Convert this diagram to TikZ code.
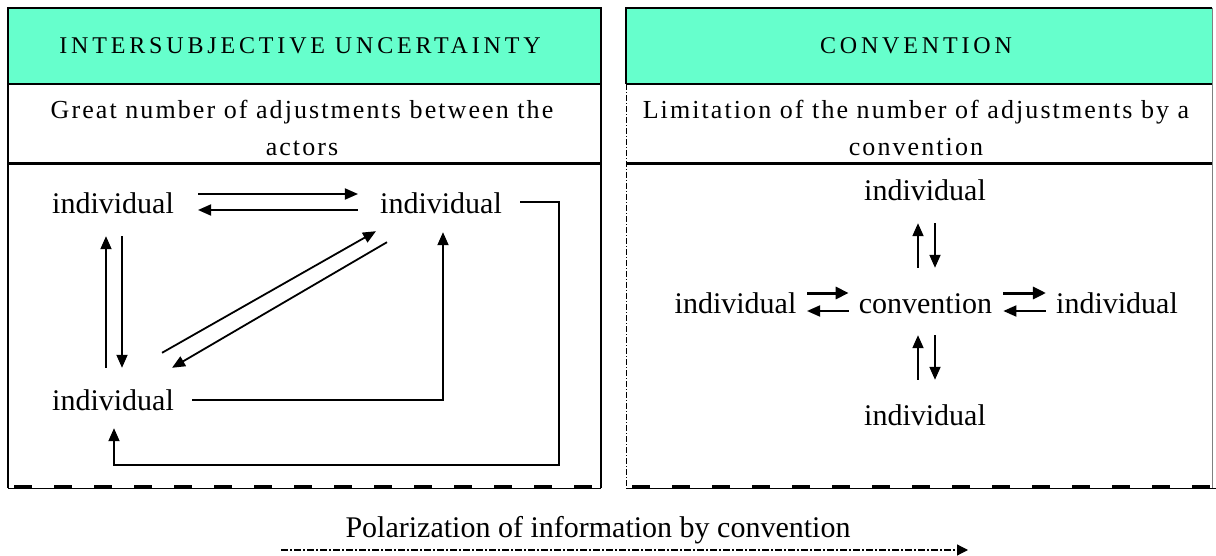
\documentclass[tikz,border=0pt]{standalone}
\usepackage{fontspec}
\setmainfont{Liberation Serif}
\newfontfamily\hdrfam[LetterSpace=16]{Liberation Serif}
\newfontfamily\subfam[LetterSpace=8]{Liberation Serif}
\usetikzlibrary{arrows.meta,calc}
\definecolor{hdrgreen}{RGB}{102,255,204}
\tikzset{
  lbl/.style={font=\fontsize{30}{36}\selectfont, inner sep=0pt, text height=20pt, text depth=0pt, anchor=base},
  hdr/.style={font=\hdrfam\fontsize{24}{28}\selectfont, inner sep=0pt, anchor=base},
  subt/.style={font=\subfam\fontsize{26}{37}\selectfont, inner sep=0pt, align=center},
  conn/.style={line width=1.8pt, -{Triangle[length=13pt,width=11pt]}},
  boldconn/.style={line width=3pt, -{Triangle[length=13pt,width=12pt]}},
  frame/.style={line width=1.8pt},
  botdash/.style={line width=3pt, dash pattern=on 18pt off 22pt},
}
\begin{document}
\begin{tikzpicture}[x=1pt,y=-1pt]
\useasboundingbox (0,0) rectangle (1216,556);
% ---------- panel backgrounds
\fill[hdrgreen] (8,8) rectangle (601,84);
\fill[hdrgreen] (626,8) rectangle (1212,84);
% ---------- left panel frame
\draw[frame] (8,488) -- (8,8) -- (601,8) -- (601,488);
\draw[line width=1.5pt] (8,84) -- (601,84);
\draw[line width=3pt] (8,164) -- (601,164);
\draw[line width=1pt] (8,488) -- (601,488);
\draw[botdash] (14,486) -- (601,486);
% ---------- right panel frame
\draw[frame] (626,84) -- (626,8) -- (1212,8);
\draw[line width=0.8pt, dash pattern=on 6pt off 2pt on 1pt off 2pt] (626,84) -- (626,488);
\draw[gray, line width=1pt] (1212,8) -- (1212,488);
\draw[line width=1.5pt] (626,84) -- (1212,84);
\draw[line width=3pt] (626,164) -- (1212,164);
\draw[line width=1pt] (626,488) -- (1216,488);
\draw[botdash] (632,486) -- (1216,486);
% ---------- titles
\node[hdr] (h1) at (300,54) {INTERSUBJECTIVE UNCERTAINTY};
\node[hdr] (h2) at (916,54) {CONVENTION};
\node[subt] (s1) at (302,128) {Great number of adjustments between the\\actors};
\node[subt] (s2) at (916,128) {Limitation of the number of adjustments by a\\convention};
% ---------- left diagram
\node[lbl] (A) at (113,214) {individual};
\node[lbl] (B) at (441,214) {individual};
\node[lbl] (C) at (113,410) {individual};
\draw[conn] ($(A.east)+(24,-10)$) -- ($(B.west)+(-22,-10)$);
\draw[conn] ($(B.west)+(-22,6)$) -- ($(A.east)+(24,6)$);
\draw[conn] ($(A.south)+(9,22)$) -- ($(C.north)+(9,-22)$);
\draw[conn] ($(C.north)+(-7,-22)$) -- ($(A.south)+(-7,22)$);
\draw[conn] ($(C.north east)+(-12,-37)$) -- ($(B.south west)+(-4,17)$);
\draw[conn] ($(B.south west)+(7,28)$) -- ($(C.north east)+(-2,-22)$);
\draw[conn] ($(C.east)+(18,0)$) -| ($(B.south)+(2,18)$);
\draw[conn] ($(B.east)+(18,-2)$) -- ++(39,0) |- ($(C.south)+(1,55)$) -- ($(C.south)+(1,18)$);
% ---------- right diagram
\node[lbl] (T) at (925,201) {individual};
\node[lbl] (M) at (925.5,313) {convention};
\node[lbl] (L) at (735.5,313) {individual};
\node[lbl] (R) at (1117,313) {individual};
\node[lbl] (D) at (925,425) {individual};
\draw[conn] ($(M.north)+(-7.5,-25)$) -- ($(T.south)+(-7,22)$);
\draw[conn] ($(T.south)+(10,22)$) -- ($(M.north)+(9.5,-25)$);
\draw[conn] ($(D.north)+(-7,-25)$) -- ($(M.south)+(-7.5,22)$);
\draw[conn] ($(M.south)+(9.5,22)$) -- ($(D.north)+(10,-25)$);
\draw[boldconn] ($(L.east)+(10.5,-10)$) -- ($(M.west)+(-10,-10)$);
\draw[conn] ($(M.west)+(-10,8)$) -- ($(L.east)+(10.5,8)$);
\draw[boldconn] ($(M.east)+(11,-10)$) -- ($(R.west)+(-10,-10)$);
\draw[conn] ($(R.west)+(-10,8)$) -- ($(M.east)+(11,8)$);
% ---------- bottom caption
\node[lbl] (pol) at (598,537) {Polarization of information by convention};
\coordinate (pa) at (281,550);
\coordinate (pb) at (968,550);
\draw[line width=1.2pt, dash pattern=on 7pt off 2pt on 2pt off 2pt, -{Triangle[length=11pt,width=11pt]}] (pa) -- (pb);
\end{tikzpicture}
\end{document}
